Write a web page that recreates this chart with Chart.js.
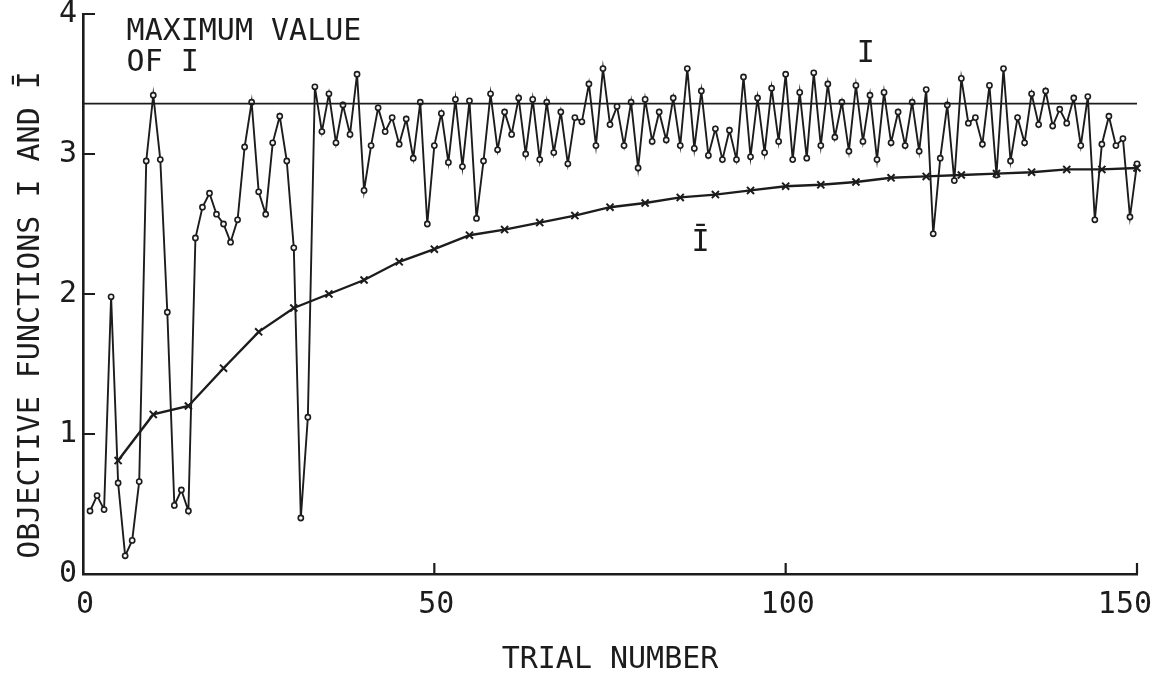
<!DOCTYPE html>
<html>
<head>
<meta charset="utf-8">
<script src="https://cdn.jsdelivr.net/npm/chart.js@4.4.1/dist/chart.umd.min.js"></script>
<style>
html,body{margin:0;padding:0;background:#ffffff;}
#wrap{width:1158px;height:677px;}
</style>
</head>
<body>
<div id="wrap"><canvas id="c" width="1158" height="677"></canvas></div>
<script>
// ---------- data ----------
const firstTrial = 1;
const iValues = [
  0.45,0.56,0.46,1.98,0.65,0.13,0.24,0.66,2.95,3.42,
  2.96,1.87,0.49,0.60,0.45,2.40,2.62,2.72,2.57,2.50,
  2.37,2.53,3.05,3.37,2.73,2.57,3.08,3.27,2.95,2.33,
  0.40,1.12,3.48,3.16,3.43,3.08,3.35,3.14,3.57,2.74,
  3.06,3.33,3.16,3.26,3.07,3.25,2.97,3.37,2.50,3.06,
  3.29,2.94,3.39,2.91,3.38,2.54,2.95,3.43,3.03,3.30,
  3.14,3.40,3.00,3.39,2.96,3.37,3.01,3.30,2.93,3.26,
  3.23,3.50,3.06,3.61,3.21,3.34,3.06,3.37,2.90,3.39,
  3.09,3.30,3.10,3.40,3.06,3.61,3.04,3.45,2.99,3.18,
  2.96,3.17,2.96,3.55,2.98,3.40,3.01,3.47,3.09,3.57,
  2.96,3.44,2.97,3.58,3.06,3.50,3.12,3.37,3.02,3.49,
  3.09,3.42,2.96,3.44,3.08,3.30,3.06,3.37,3.02,3.46,
  2.43,2.97,3.35,2.81,3.54,3.22,3.26,3.07,3.49,2.85,
  3.61,2.95,3.26,3.08,3.43,3.21,3.45,3.20,3.32,3.22,
  3.40,3.06,3.41,2.53,3.07,3.27,3.06,3.11,2.55,2.93
];
const ibarTrials = [5,10,15,20,25,30,35,40,45,50,55,60,65,70,75,80,85,90,95,100,105,110,115,120,125,130,135,140,145,150];
const ibarValues = [0.81,1.14,1.20,1.47,1.73,1.90,2.00,2.10,2.23,2.32,2.42,2.46,2.51,2.56,2.62,2.65,2.69,2.71,2.74,2.77,2.78,2.80,2.83,2.84,2.85,2.86,2.87,2.89,2.89,2.90];
const maxValue = 3.36;
const maxLineTrials = [0, 150];
const xTickValues = [0, 50, 100, 150];
const yTickValues = [0, 1, 2, 3, 4];
const xTitle = 'TRIAL NUMBER';
const yTitle = 'OBJECTIVE FUNCTIONS I AND \u012A';
const noteLines = ['MAXIMUM VALUE', 'OF I'];
const curveLabelI = 'I';
const curveLabelIbar = '\u012A';

// ---------- style ----------
const ink = '#1c1c1c';
const fontFamily = "'DejaVu Sans Mono', 'Liberation Mono', monospace";
const fontSize = 30;

const iPoints = iValues.map((v, k) => ({x: firstTrial + k, y: v}));
const ibarPoints = ibarValues.map((v, k) => ({x: ibarTrials[k], y: v}));
const maxPoints = maxLineTrials.map(t => ({x: t, y: maxValue}));

const annotate = {
  id: 'annotate',
  afterDraw(chart) {
    const {ctx, chartArea: a, scales: {x, y}, width} = chart;
    ctx.save();
    // inward tick marks
    ctx.strokeStyle = ink;
    ctx.lineWidth = 2.2;
    ctx.beginPath();
    yTickValues.filter(v => v > 0).forEach(v => {
      const p = y.getPixelForValue(v);
      ctx.moveTo(a.left, p); ctx.lineTo(a.left + 12, p);
    });
    xTickValues.filter(v => v > 0).forEach(v => {
      const p = x.getPixelForValue(v);
      ctx.moveTo(p, a.bottom); ctx.lineTo(p, a.bottom - 11);
    });
    ctx.stroke();

    ctx.fillStyle = ink;
    ctx.font = fontSize + 'px ' + fontFamily;
    ctx.textBaseline = 'middle';
    // x tick labels (kept inside the canvas)
    ctx.textAlign = 'center';
    xTickValues.forEach(v => {
      const txt = String(v);
      const half = ctx.measureText(txt).width / 2;
      const px = Math.min(x.getPixelForValue(v) + 2, width - half - 6);
      ctx.fillText(txt, px, a.bottom + 31);
    });
    // note
    ctx.textAlign = 'left';
    ctx.fillText(noteLines[0], x.getPixelForValue(6.2), y.getPixelForValue(3.87));
    ctx.fillText(noteLines[1], x.getPixelForValue(6.2), y.getPixelForValue(3.65));
    // curve labels
    ctx.textAlign = 'center';
    ctx.fillText(curveLabelI, x.getPixelForValue(111.4), y.getPixelForValue(3.71));
    ctx.fillText(curveLabelIbar, x.getPixelForValue(87.9), y.getPixelForValue(2.36));
    // axis titles
    ctx.fillText(xTitle, (a.left + a.right) / 2, 660);
    ctx.translate(31, 315);
    ctx.rotate(-Math.PI / 2);
    ctx.fillText(yTitle, 0, 0);
    ctx.restore();
  }
};

new Chart(document.getElementById('c'), {
  type: 'line',
  data: {
    datasets: [
      {
        label: 'max',
        data: maxPoints,
        borderColor: ink,
        borderWidth: 1.6,
        pointRadius: 0,
        tension: 0
      },
      {
        label: 'Ibar',
        data: ibarPoints,
        borderColor: ink,
        borderWidth: 2.4,
        pointStyle: 'crossRot',
        pointRadius: 5,
        pointBorderWidth: 2,
        pointBorderColor: ink,
        pointBackgroundColor: ink,
        tension: 0
      },
      {
        label: 'I',
        data: iPoints,
        borderColor: ink,
        borderWidth: 1.9,
        pointStyle: 'circle',
        pointRadius: 2.6,
        pointBorderWidth: 1.6,
        pointBorderColor: ink,
        pointBackgroundColor: '#f4f4f4',
        tension: 0
      }
    ]
  },
  options: {
    responsive: false,
    animation: false,
    devicePixelRatio: 1,
    clip: false,
    layout: {padding: {left: 0, top: 14, right: 21, bottom: 0}},
    plugins: {legend: {display: false}, tooltip: {enabled: false}},
    scales: {
      x: {
        type: 'linear',
        min: 0,
        max: 150,
        afterBuildTicks: s => { s.ticks = xTickValues.map(v => ({value: v})); },
        afterFit: s => { s.height = 103; s.paddingLeft = 0; s.paddingRight = 0; },
        grid: {display: false, drawTicks: false},
        border: {display: true, color: ink, width: 2.6},
        ticks: {display: false}
      },
      y: {
        type: 'linear',
        min: 0,
        max: 4,
        afterBuildTicks: s => { s.ticks = yTickValues.map(v => ({value: v})); },
        afterFit: s => { s.width = 83; s.paddingTop = 0; s.paddingBottom = 0; },
        grid: {display: false, drawTicks: false},
        border: {display: true, color: ink, width: 2.6},
        ticks: {color: ink, padding: 6, font: {family: fontFamily, size: fontSize}}
      }
    }
  },
  plugins: [annotate]
});
</script>
</body>
</html>
